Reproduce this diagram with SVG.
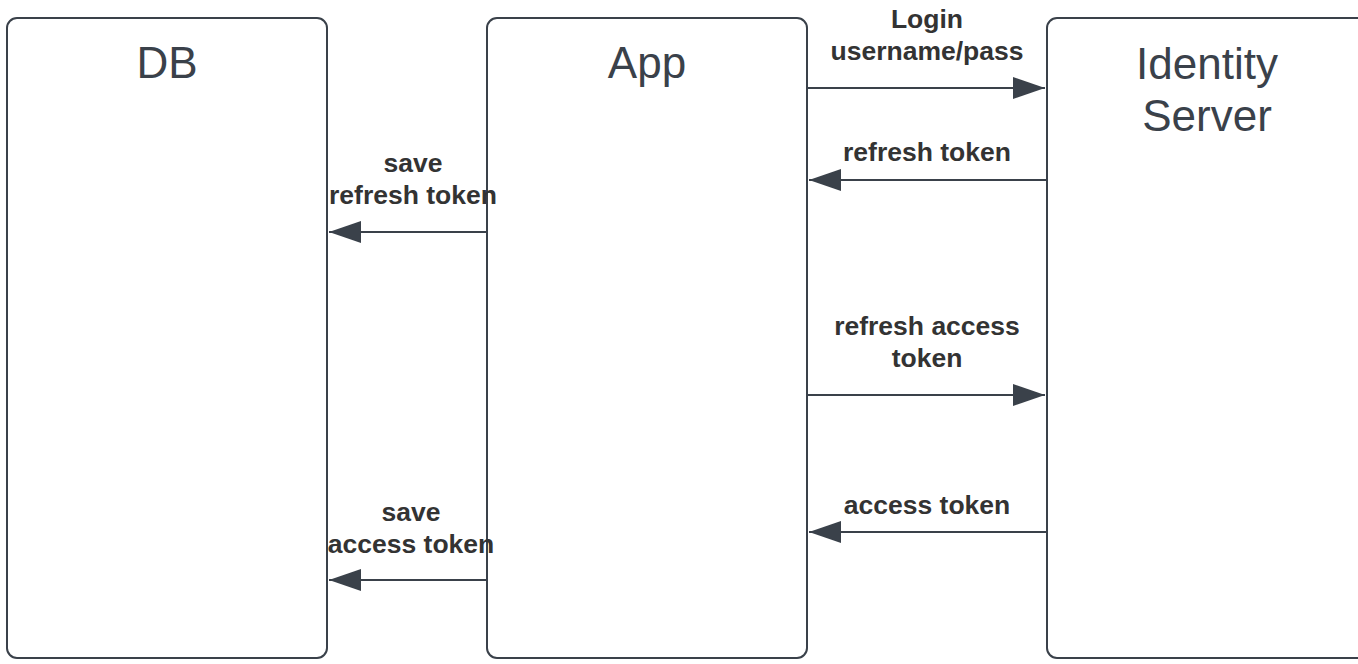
<svg xmlns="http://www.w3.org/2000/svg" width="1358" height="664" viewBox="0 0 1358 664">
<style>
.box{fill:#fff;stroke:#3a414a;stroke-width:2}
.title{font-family:"Liberation Sans",Arial,sans-serif;font-size:44px;fill:#3a414a;text-anchor:middle}
.lbl{font-family:"Liberation Sans",Arial,sans-serif;font-size:26.5px;font-weight:bold;fill:#333;text-anchor:middle}
.conn{stroke:#3a414a;stroke-width:2;fill:none;marker-end:url(#ah)}
</style>
<defs>
<marker id="ah" markerUnits="userSpaceOnUse" markerWidth="34" markerHeight="22" refX="32" refY="11" orient="auto">
<path d="M0,0 L32,11 L0,22 Z" fill="#3a414a"/>
</marker>
</defs>
<rect width="1358" height="664" fill="#fff"/>
<g id="db"><rect class="box" x="7" y="18" width="320" height="640" rx="10"/><text class="title" x="167" y="78">DB</text></g>
<g id="app"><rect class="box" x="487" y="18" width="320" height="640" rx="10"/><text class="title" x="647" y="78">App</text></g>
<g id="identity"><rect class="box" x="1047" y="18" width="330" height="640" rx="10"/><text class="title" x="1207" y="79">Identity</text><text class="title" x="1207" y="131">Server</text></g>
<g id="connectors">
<path class="conn" d="M808,88 H1045"/>
<path class="conn" d="M1046,180 H809"/>
<path class="conn" d="M486,232 H329"/>
<path class="conn" d="M808,395 H1045"/>
<path class="conn" d="M1046,532 H809"/>
<path class="conn" d="M486,580 H329"/>
</g>
<g id="labels">
<text class="lbl" x="927" y="28">Login</text>
<text class="lbl" x="927" y="60">username/pass</text>
<text class="lbl" x="927" y="161">refresh token</text>
<text class="lbl" x="413" y="172">save</text>
<text class="lbl" x="413" y="204">refresh token</text>
<text class="lbl" x="927" y="335">refresh access</text>
<text class="lbl" x="927" y="367">token</text>
<text class="lbl" x="927" y="514">access token</text>
<text class="lbl" x="411" y="521">save</text>
<text class="lbl" x="411" y="553">access token</text>
</g>
</svg>
